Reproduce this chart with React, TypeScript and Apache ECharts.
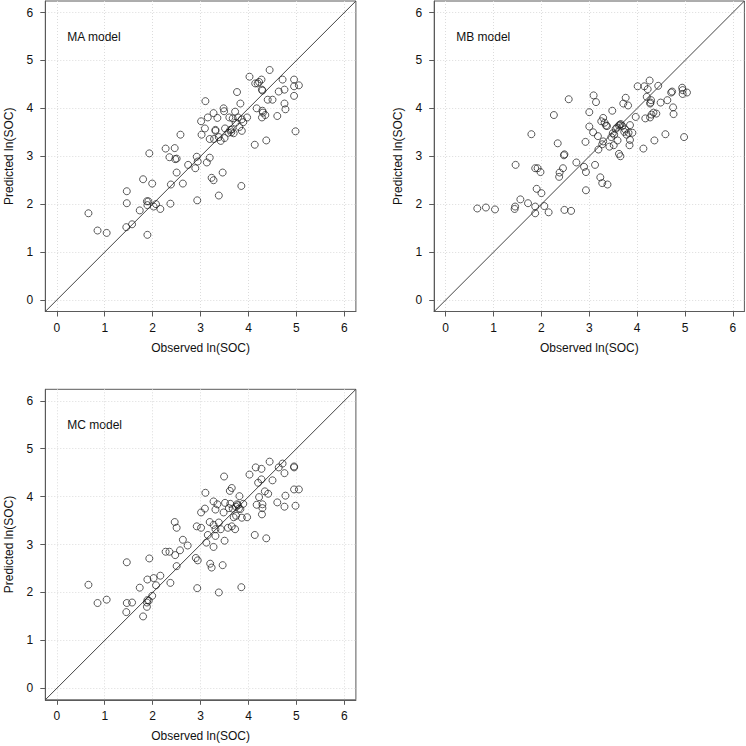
import React, { useEffect, useRef } from "react";
import * as echarts from "echarts";

const tickValues = [0, 1, 2, 3, 4, 5, 6];
const axisMin = -0.24;
const axisMax = 6.24;
const panelTitles = ["MA model", "MB model", "MC model"];
const xAxisTitle = "Observed ln(SOC)";
const yAxisTitle = "Predicted ln(SOC)";

const maObserved = [0.66, 0.85, 1.04, 1.46, 1.46, 1.45, 1.57, 1.73, 1.8, 1.89, 1.88, 1.91, 1.89, 1.93, 1.99, 2.02, 2.07, 2.16, 2.27, 2.35, 2.38, 2.37, 2.46, 2.47, 2.5, 2.5, 2.58, 2.63, 2.74, 2.89, 2.92, 2.94, 2.93, 3.01, 3.02, 3.09, 3.1, 3.13, 3.15, 3.19, 3.19, 3.23, 3.27, 3.27, 3.28, 3.31, 3.31, 3.35, 3.38, 3.38, 3.42, 3.46, 3.48, 3.49, 3.51, 3.5, 3.58, 3.6, 3.62, 3.64, 3.65, 3.69, 3.67, 3.72, 3.73, 3.76, 3.78, 3.81, 3.83, 3.85, 3.86, 3.86, 3.89, 3.97, 4.02, 4.13, 4.14, 4.17, 4.19, 4.22, 4.27, 4.28, 4.29, 4.28, 4.29, 4.3, 4.35, 4.37, 4.4, 4.44, 4.5, 4.6, 4.63, 4.71, 4.75, 4.75, 4.77, 4.95, 4.95, 4.95, 4.98, 5.05];
const maPredicted = [1.81, 1.45, 1.4, 2.27, 2.02, 1.52, 1.58, 1.87, 2.52, 1.36, 2.06, 2.06, 1.98, 3.06, 2.43, 1.95, 2.0, 1.9, 3.16, 2.98, 2.41, 2.01, 3.17, 2.94, 2.95, 2.66, 3.45, 2.43, 2.82, 2.75, 2.99, 2.89, 2.08, 3.73, 3.45, 3.58, 4.15, 2.87, 3.81, 2.97, 3.36, 2.55, 3.9, 2.5, 3.36, 3.53, 3.55, 3.8, 3.4, 2.18, 3.32, 2.66, 4.0, 3.94, 3.58, 3.38, 3.49, 3.81, 3.55, 3.5, 3.56, 3.48, 3.79, 3.93, 3.7, 4.34, 3.81, 3.61, 4.1, 2.38, 3.53, 3.77, 3.71, 3.81, 4.66, 3.24, 4.52, 4.0, 4.52, 4.55, 4.6, 4.39, 4.37, 3.81, 3.95, 3.91, 3.86, 3.33, 4.18, 4.8, 4.18, 3.84, 4.35, 4.6, 4.39, 4.1, 3.98, 4.6, 4.46, 4.26, 3.52, 4.48];

const mbObserved = [0.66, 0.84, 1.03, 1.46, 1.45, 1.44, 1.56, 1.72, 1.79, 1.87, 1.92, 1.87, 1.87, 1.9, 1.98, 2.0, 2.06, 2.15, 2.26, 2.34, 2.37, 2.38, 2.45, 2.47, 2.48, 2.48, 2.57, 2.62, 2.73, 2.89, 2.92, 2.93, 2.93, 3.0, 3.0, 3.09, 3.08, 3.12, 3.14, 3.18, 3.19, 3.23, 3.25, 3.27, 3.27, 3.29, 3.29, 3.32, 3.35, 3.37, 3.38, 3.42, 3.46, 3.48, 3.49, 3.51, 3.52, 3.55, 3.58, 3.59, 3.62, 3.62, 3.64, 3.65, 3.66, 3.69, 3.71, 3.73, 3.75, 3.76, 3.78, 3.81, 3.82, 3.84, 3.85, 3.85, 3.9, 3.97, 4.01, 4.13, 4.15, 4.17, 4.2, 4.22, 4.26, 4.27, 4.28, 4.29, 4.27, 4.3, 4.34, 4.36, 4.4, 4.44, 4.49, 4.59, 4.63, 4.71, 4.73, 4.75, 4.76, 4.94, 4.95, 4.95, 4.98, 5.04];
const mbPredicted = [1.91, 1.93, 1.89, 2.82, 1.95, 1.9, 2.1, 2.02, 3.46, 2.75, 2.75, 1.95, 1.81, 2.32, 2.67, 2.23, 1.96, 1.83, 3.86, 3.27, 2.57, 2.66, 2.75, 3.02, 3.04, 1.88, 4.19, 1.86, 2.87, 2.78, 3.3, 2.67, 2.29, 3.62, 3.92, 4.27, 3.5, 2.82, 4.13, 3.42, 3.14, 2.56, 3.73, 3.25, 2.44, 3.31, 3.8, 3.7, 3.64, 3.63, 2.41, 3.2, 3.4, 3.95, 3.48, 3.23, 3.45, 3.57, 3.6, 3.33, 3.64, 3.05, 3.66, 3.0, 3.67, 3.63, 4.1, 3.51, 3.56, 4.22, 3.45, 4.06, 3.49, 3.23, 3.65, 3.34, 3.49, 3.82, 4.46, 3.16, 4.46, 3.79, 4.24, 4.4, 4.58, 4.1, 4.12, 4.17, 3.81, 3.87, 3.91, 3.33, 3.89, 4.47, 4.12, 3.46, 4.17, 4.33, 4.35, 4.02, 3.88, 4.43, 4.38, 4.3, 3.4, 4.33];

const mcObserved = [0.66, 0.85, 1.04, 1.46, 1.46, 1.57, 1.45, 1.73, 1.8, 1.93, 1.89, 1.89, 1.88, 1.88, 1.92, 2.02, 1.99, 2.07, 2.16, 2.27, 2.35, 2.37, 2.46, 2.5, 2.47, 2.5, 2.57, 2.63, 2.73, 2.9, 2.94, 2.93, 2.92, 3.01, 3.01, 3.09, 3.1, 3.12, 3.15, 3.19, 3.2, 3.23, 3.27, 3.27, 3.27, 3.31, 3.31, 3.31, 3.35, 3.38, 3.38, 3.42, 3.46, 3.48, 3.49, 3.5, 3.51, 3.57, 3.59, 3.61, 3.65, 3.65, 3.62, 3.67, 3.69, 3.72, 3.74, 3.74, 3.76, 3.78, 3.8, 3.81, 3.83, 3.85, 3.86, 3.89, 3.97, 4.02, 4.13, 4.15, 4.17, 4.2, 4.22, 4.27, 4.27, 4.29, 4.29, 4.28, 4.34, 4.37, 4.41, 4.44, 4.5, 4.6, 4.63, 4.71, 4.75, 4.77, 4.75, 4.95, 4.95, 4.95, 4.98, 5.05];
const mcPredicted = [2.16, 1.78, 1.85, 2.63, 1.78, 1.79, 1.59, 2.1, 1.5, 2.71, 2.27, 1.84, 1.79, 1.7, 1.83, 2.3, 1.93, 2.15, 2.35, 2.85, 2.85, 2.2, 3.47, 3.35, 2.78, 2.55, 2.88, 3.1, 2.98, 2.72, 2.67, 2.09, 3.38, 3.35, 3.67, 3.75, 4.08, 3.04, 3.2, 3.47, 2.6, 2.52, 2.95, 3.9, 3.41, 3.73, 3.32, 3.18, 3.84, 3.46, 2.0, 3.32, 2.57, 3.67, 4.42, 3.08, 3.87, 3.35, 3.76, 4.12, 3.38, 4.18, 3.85, 3.75, 3.57, 3.32, 3.79, 3.6, 3.84, 3.82, 3.75, 4.01, 3.74, 2.11, 3.56, 3.85, 3.57, 4.46, 3.2, 4.61, 3.83, 4.29, 3.99, 4.58, 4.36, 3.84, 3.76, 3.63, 4.11, 3.13, 4.06, 4.73, 4.34, 3.88, 4.61, 4.69, 4.49, 4.02, 3.79, 4.63, 4.61, 4.15, 3.81, 4.15];

const panels = [
  { obs: maObserved, pred: maPredicted },
  { obs: mbObserved, pred: mbPredicted },
  { obs: mcObserved, pred: mcPredicted },
];

const layout = [
  { left: 45.3, top: 1, width: 310.6, height: 310.5 },
  { left: 434.2, top: 1, width: 310.2, height: 310.5 },
  { left: 45.3, top: 389.3, width: 310.6, height: 310.5 },
];

const FONT = "'Liberation Sans', Arial, Helvetica, sans-serif";
const BOX = "#5a5a5a";

export default function App() {
  const ref = useRef<HTMLDivElement>(null);
  useEffect(() => {
    if (!ref.current) return;
    const chart = echarts.init(ref.current, null, { renderer: "svg" });
    const grid = layout.map((g) => ({
      ...g,
      show: true,
      borderColor: BOX,
      borderWidth: 1,
      backgroundColor: "transparent",
      containLabel: false,
    }));
    const axisCommon = {
      type: "value",
      min: axisMin,
      max: axisMax,
      axisLine: { show: true, onZero: false, lineStyle: { color: BOX, width: 1 } },
      axisTick: { show: true, length: 5, customValues: tickValues, lineStyle: { color: BOX, width: 1 } },
      axisLabel: {
        show: true,
        customValues: tickValues,
        color: "#111",
        fontSize: 12,
        fontFamily: FONT,
      },
      splitLine: { show: true, lineStyle: { color: "#dcdcdc", type: [1, 2], width: 1 } },
      nameLocation: "middle",
      nameTextStyle: { color: "#111", fontSize: 12, fontFamily: FONT },
    };
    const xAxis = layout.map((_, i) => ({
      ...axisCommon,
      gridIndex: i,
      name: xAxisTitle,
      nameGap: 30,
      axisLabel: { ...axisCommon.axisLabel, margin: 10 },
    }));
    const yAxis = layout.map((_, i) => ({
      ...axisCommon,
      gridIndex: i,
      name: yAxisTitle,
      nameGap: 30,
      axisLabel: { ...axisCommon.axisLabel, margin: 12 },
    }));
    const series: any[] = [];
    panels.forEach((p, i) => {
      series.push({
        type: "line",
        xAxisIndex: i,
        yAxisIndex: i,
        data: [
          [axisMin, axisMin],
          [axisMax, axisMax],
        ],
        showSymbol: false,
        silent: true,
        lineStyle: { color: "#444", width: 1 },
        z: 1,
      });
      series.push({
        type: "scatter",
        xAxisIndex: i,
        yAxisIndex: i,
        data: p.obs.map((v, k) => [v, p.pred[k]]),
        symbol: "circle",
        symbolSize: 7,
        itemStyle: { color: "rgba(0,0,0,0)", borderColor: "#1a1a1a", borderWidth: 0.9 },
        z: 2,
      });
    });
    const graphic = panelTitles.map((t, i) => ({
      type: "text",
      x: layout[i].left + 22,
      y: layout[i].top + 35.5,
      style: {
        text: t,
        fontSize: 12,
        fontFamily: FONT,
        fill: "#111",
        textVerticalAlign: "middle",
      },
    }));
    chart.setOption({
      animation: false,
      backgroundColor: "#fff",
      grid,
      xAxis,
      yAxis,
      series,
      graphic,
    });
    return () => chart.dispose();
  }, []);
  return (
    <div
      ref={ref}
      style={{ position: "absolute", left: 0, top: 0, width: 746, height: 746 }}
    />
  );
}
